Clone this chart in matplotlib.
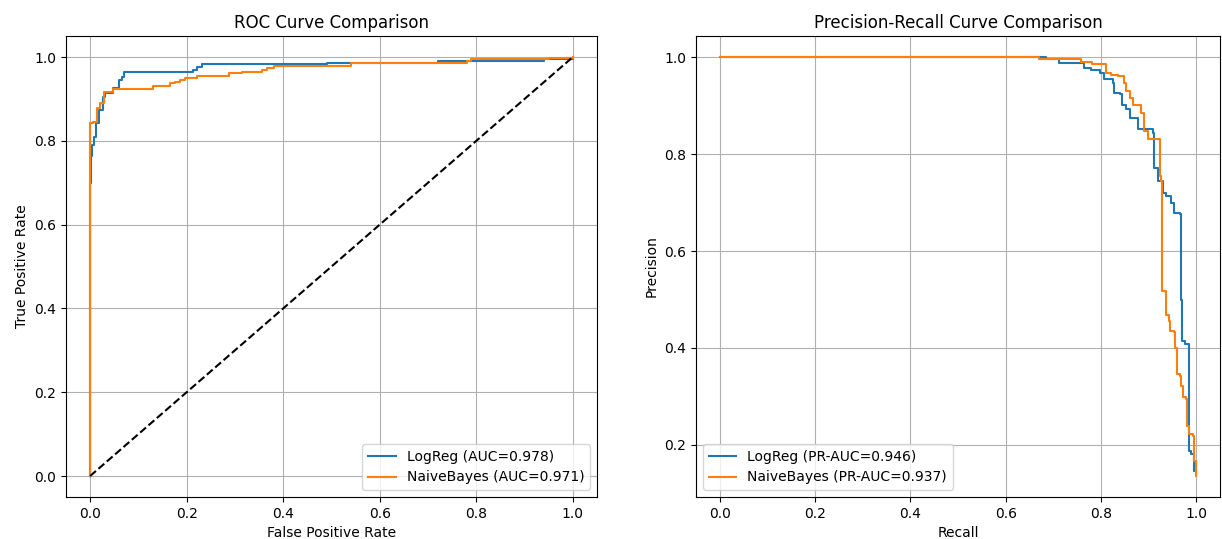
import matplotlib
matplotlib.use("Agg")
import matplotlib.pyplot as plt

# ROC curve points
lr_fpr = [0.0, 0.0, 0.0015, 0.004, 0.007, 0.012, 0.019, 0.026, 0.031, 0.045, 0.048,
          0.059, 0.066, 0.07, 0.214, 0.221, 0.232, 0.483, 0.49, 0.70, 0.72, 0.94, 1.0]
lr_tpr = [0.0, 0.70, 0.763, 0.79, 0.81, 0.843, 0.874, 0.905, 0.914, 0.914, 0.925,
          0.945, 0.953, 0.964, 0.969, 0.977, 0.983, 0.983, 0.986, 0.987, 0.991, 0.996, 1.0]

nb_fpr = [0.0, 0.0, 0.005, 0.014, 0.021, 0.028, 0.048, 0.131, 0.166, 0.176, 0.187,
          0.197, 0.221, 0.284, 0.287, 0.315, 0.356, 0.367, 0.38, 0.483, 0.54, 0.78,
          0.79, 0.95, 1.0]
nb_tpr = [0.0, 0.842, 0.846, 0.878, 0.89, 0.917, 0.923, 0.931, 0.937, 0.941, 0.945,
          0.951, 0.955, 0.955, 0.962, 0.965, 0.970, 0.975, 0.978, 0.979, 0.986, 0.99,
          0.996, 0.998, 1.0]

# precision-recall points
lr_rec = [0.0, 0.68, 0.684, 0.712, 0.758, 0.765, 0.779, 0.797, 0.807, 0.825, 0.828,
          0.839, 0.844, 0.853, 0.86, 0.874, 0.877, 0.902, 0.909, 0.912, 0.912, 0.919,
          0.93, 0.937, 0.947, 0.954, 0.965, 0.967, 0.969, 0.970, 0.976, 0.984, 0.984,
          0.989, 0.996, 1.0]
lr_prec = [1.0, 1.0, 0.997, 0.988, 0.988, 0.978, 0.973, 0.968, 0.954, 0.947, 0.926,
           0.923, 0.902, 0.892, 0.875, 0.874, 0.851, 0.851, 0.844, 0.827, 0.772, 0.744,
           0.72, 0.713, 0.70, 0.679, 0.676, 0.60, 0.50, 0.414, 0.408, 0.40, 0.188,
           0.181, 0.146, 0.140]

nb_rec = [0.0, 0.670, 0.670, 0.755, 0.758, 0.782, 0.807, 0.811, 0.821, 0.835, 0.846,
          0.849, 0.853, 0.86, 0.867, 0.881, 0.884, 0.89, 0.891, 0.898, 0.923, 0.923,
          0.926, 0.928, 0.928, 0.935, 0.937, 0.942, 0.945, 0.953, 0.956, 0.959, 0.965,
          0.967, 0.972, 0.979, 0.981, 0.984, 0.993, 0.995, 1.0, 1.0]
nb_prec = [1.0, 1.0, 0.995, 0.995, 0.990, 0.985, 0.985, 0.968, 0.964, 0.961, 0.961,
           0.947, 0.93, 0.916, 0.901, 0.901, 0.885, 0.872, 0.847, 0.830, 0.830, 0.755,
           0.744, 0.641, 0.517, 0.517, 0.469, 0.456, 0.436, 0.432, 0.40, 0.346, 0.342,
           0.322, 0.298, 0.294, 0.239, 0.222, 0.219, 0.167, 0.160, 0.136]

auc_lr, auc_nb = 0.978, 0.971
pr_auc_lr, pr_auc_nb = 0.946, 0.937

fig, (ax1, ax2) = plt.subplots(1, 2, figsize=(12.22, 5.39), dpi=100)
ax1.set_position([0.054, 0.078, 0.4885 - 0.054, 0.933 - 0.078])
ax2.set_position([0.5696, 0.078, 0.9984 - 0.5696, 0.933 - 0.078])

ax1.plot(lr_fpr, lr_tpr, drawstyle="steps-post", label=f"LogReg (AUC={auc_lr:.3f})")
ax1.plot(nb_fpr, nb_tpr, drawstyle="steps-post", label=f"NaiveBayes (AUC={auc_nb:.3f})")
ax1.plot([0, 1], [0, 1], "k--")
ax1.set_xlabel("False Positive Rate")
ax1.set_ylabel("True Positive Rate")
ax1.set_title("ROC Curve Comparison")
ax1.legend(loc="lower right")
ax1.grid(True)

ax2.plot(lr_rec, lr_prec, drawstyle="steps-post", label=f"LogReg (PR-AUC={pr_auc_lr:.3f})")
ax2.plot(nb_rec, nb_prec, drawstyle="steps-post", label=f"NaiveBayes (PR-AUC={pr_auc_nb:.3f})")
ax2.set_xlabel("Recall")
ax2.set_ylabel("Precision")
ax2.set_title("Precision-Recall Curve Comparison")
ax2.legend(loc="lower left")
ax2.grid(True)

plt.savefig("out.png", dpi=100)
